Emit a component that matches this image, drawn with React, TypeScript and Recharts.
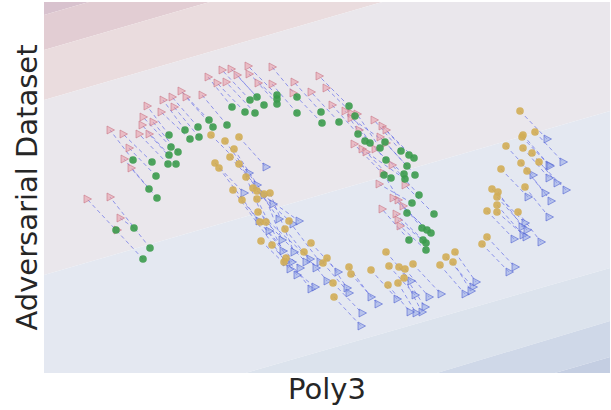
import { ComposedChart, Area, Scatter, XAxis, YAxis } from 'recharts';

// decision-surface contour boundaries (value at left edge / right edge of the plot)
const bandLeft = [2.58, 2.23, 1.73, -0.02, -1.58, -2.18, -2.48];
const bandRight = [4.22, 3.87, 3.37, 1.62, 0.05, -0.48, -0.84];
const bandColors = [
  '#d8c2ce', '#e2cdd3', '#eadcde', '#eae7ec',
  '#e4e8f1', '#dce3ed', '#cfd8e8', '#c4cee2',
];
const xDomain: [number, number] = [-2, 3.66];
const yDomain: [number, number] = [-1, 2.71];

// class 0 (green) clean samples and their adversarial counterparts
const greenPoints: [number, number][] = [
  [-1.28, 0.43], [-1.1, 0.45], [-0.94, 0.25], [-1.01, 0.14], [-0.95, 0.84], [-0.87, 0.75],
  [-0.88, 0.97], [-1.11, 1.13], [-0.92, 1.11], [-0.76, 1.09], [-0.68, 1.09], [-0.75, 1.18],
  [-0.73, 1.26], [-0.66, 1.21], [-0.75, 1.38], [-0.59, 1.43], [-0.54, 1.34], [-0.45, 1.36],
  [-0.46, 1.46], [-0.35, 1.53], [-0.31, 1.46], [-0.17, 1.48], [-0.12, 1.66], [0.01, 1.61],
  [0.06, 1.73], [0.13, 1.76], [0.11, 1.6], [0.2, 1.68], [0.33, 1.78], [0.33, 1.74],
  [0.33, 1.69], [0.53, 1.76], [0.53, 1.6], [0.77, 1.61], [0.78, 1.5], [0.95, 1.51],
  [1.05, 1.67], [1.11, 1.57], [1.14, 1.39], [1.21, 1.32], [1.26, 1.3], [1.36, 1.25],
  [1.41, 1.31], [1.42, 1.13], [1.57, 1.22], [1.65, 1.18], [1.7, 1.15], [1.63, 1.07],
  [1.71, 0.98], [1.6, 0.99], [1.61, 0.94], [1.4, 0.98], [1.47, 0.95], [1.75, 0.78],
  [1.68, 0.7], [1.63, 0.6], [1.9, 0.59], [1.78, 0.45], [1.83, 0.43], [1.87, 0.4],
  [1.65, 0.33], [1.79, 0.33], [1.82, 0.3], [1.82, 0.23],
];
const greenAdv: [number, number][] = [
  [-1.27, 0.43], [-1.24, 0.55], [-1.34, 0.76], [-1.57, 0.74], [-1.13, 1.05], [-1.2, 1.14],
  [-1.15, 1.25], [-1.34, 1.43], [-1.21, 1.39], [-1.05, 1.39], [-0.95, 1.39], [-1.02, 1.48],
  [-1.01, 1.56], [-0.91, 1.51], [-0.97, 1.67], [-0.81, 1.73], [-0.83, 1.61], [-0.7, 1.66],
  [-0.72, 1.76], [-0.63, 1.82], [-0.58, 1.76], [-0.42, 1.78], [-0.36, 1.96], [-0.27, 1.9],
  [-0.22, 2.03], [-0.13, 2.04], [-0.18, 1.91], [-0.07, 1.98], [0.04, 2.07], [0.05, 1.99],
  [0.14, 1.9], [0.28, 2.06], [0.28, 1.89], [0.5, 1.91], [0.49, 1.8], [0.67, 1.81],
  [0.75, 1.97], [0.82, 1.85], [0.88, 1.68], [1.01, 1.62], [1.07, 1.6], [1.13, 1.59],
  [1.07, 1.55], [1.15, 1.43], [1.3, 1.53], [1.38, 1.47], [1.42, 1.43], [1.36, 1.36],
  [1.42, 1.3], [1.31, 1.24], [1.18, 1.24], [1.1, 1.29], [1.22, 1.21], [1.48, 1.08],
  [1.35, 0.89], [1.39, 1.0], [1.61, 0.88], [1.54, 0.73], [1.59, 0.67], [1.49, 0.75],
  [1.38, 0.64], [1.52, 0.59], [1.54, 0.53], [1.56, 0.47],
];

// class 1 (yellow) clean samples and their adversarial counterparts
const yellowPoints: [number, number][] = [
  [-0.33, 1.38], [-0.19, 1.32], [-0.05, 1.36], [-0.1, 1.24], [-0.14, 1.16], [-0.29, 1.1],
  [-0.25, 1.05], [-0.05, 1.09], [0.02, 0.96], [-0.11, 0.83], [0.09, 0.85], [0.13, 0.82],
  [0.2, 0.79], [0.26, 0.8], [-0.02, 0.73], [0.13, 0.74], [0.14, 0.61], [0.16, 0.51],
  [0.22, 0.51], [0.45, 0.52], [0.41, 0.44], [0.17, 0.32], [0.28, 0.28], [0.42, 0.15],
  [0.4, 0.11], [0.67, 0.3], [0.6, 0.21], [0.83, 0.15], [0.79, 0.1], [1.05, 0.06],
  [1.07, -0.01], [0.89, -0.1], [0.9, -0.24], [1.27, 0.03], [1.42, 0.21], [1.45, 0.07],
  [1.55, 0.06], [1.61, 0.04], [1.69, 0.09], [1.6, -0.05], [1.54, -0.1], [1.44, -0.12],
  [1.96, 0.08], [2.02, 0.16], [2.11, 0.21], [2.09, 0.11], [2.38, 0.29], [2.43, 0.36],
  [2.43, 0.62], [2.48, 0.84], [2.54, 0.81], [2.53, 0.76], [2.53, 0.68], [2.53, 0.61],
  [2.74, 0.61], [2.57, 1.04], [2.62, 1.27], [2.81, 0.86], [2.77, 1.1], [2.83, 1.02],
  [2.79, 1.25], [2.88, 1.2], [2.95, 1.11], [2.78, 1.36], [2.79, 1.38], [2.91, 1.41],
  [2.76, 1.62],
];
const yellowAdv: [number, number][] = [
  [0.05, 1.0], [0.13, 0.88], [0.22, 1.06], [0.2, 0.78], [0.29, 0.69], [0.0, 0.8],
  [0.15, 0.52], [0.35, 0.54], [0.25, 0.42], [0.42, 0.11], [0.49, 0.49], [0.55, 0.52],
  [0.38, 0.33], [0.5, 0.21], [0.48, 0.11], [0.39, 0.22], [0.66, 0.14], [0.56, 0.05],
  [0.62, 0.11], [0.76, 0.11], [0.72, 0.05], [0.46, 0.04], [0.53, -0.02], [0.67, -0.16],
  [0.71, -0.14], [0.94, 0.01], [0.83, -0.08], [1.03, -0.15], [1.05, -0.2], [1.27, -0.24],
  [1.34, -0.31], [1.18, -0.4], [1.17, -0.53], [1.53, -0.26], [1.67, -0.08], [1.71, -0.22],
  [1.81, -0.34], [1.85, -0.24], [1.97, -0.21], [1.78, -0.39], [1.72, -0.4], [1.66, -0.39],
  [2.21, -0.21], [2.29, -0.14], [2.32, -0.09], [2.27, -0.18], [2.65, 0.01], [2.71, 0.06],
  [2.7, 0.34], [2.81, 0.5], [2.78, 0.46], [2.83, 0.43], [2.79, 0.38], [2.82, 0.36],
  [2.97, 0.31], [2.84, 0.76], [2.89, 0.98], [3.05, 0.56], [3.01, 0.8], [3.07, 0.72],
  [3.05, 0.95], [3.13, 0.9], [3.22, 0.83], [3.05, 1.08], [3.06, 1.07], [3.19, 1.11],
  [3.03, 1.34],
];

const toXY = (p: [number, number]) => ({ x: p[0], y: p[1] });

// chart table for the background bands: one row per plot edge
const bandRows = [xDomain[0], xDomain[1]].map((x, side) => {
  const edge = side === 0 ? bandLeft : bandRight;
  const row: Record<string, unknown> = { x };
  bandColors.forEach((_, i) => {
    const high = i === 0 ? 6 : edge[i - 1];
    const low = i === edge.length ? -4 : edge[i];
    row[`b${i}`] = [low, high];
  });
  return row;
});

const lineStyle = { stroke: '#5a64e6', strokeOpacity: 0.65, strokeDasharray: '4 3', strokeWidth: 1 };

const NoShape = () => <g />;

const dot = (fill: string) => (props: any) => (
  <circle cx={props.cx} cy={props.cy} r={3.8} fill={fill} fillOpacity={0.9} />
);

const tri = (fill: string, stroke: string) => (props: any) => {
  const { cx, cy } = props;
  return (
    <path
      d={`M${cx - 3},${cy - 4}L${cx + 4.5},${cy}L${cx - 3},${cy + 4}Z`}
      fill={fill}
      fillOpacity={0.6}
      stroke={stroke}
      strokeOpacity={0.7}
      strokeWidth={0.8}
    />
  );
};

const axisFont = { fontFamily: 'DejaVu Sans', fontSize: 29, fill: '#262626' };

export default function App() {
  return (
    <div style={{ position: 'absolute', left: 0, top: 0, background: '#fff' }}>
      <ComposedChart width={611} height={410} data={bandRows} margin={{ top: 2, right: 1, bottom: 0, left: 0 }}>
        <XAxis
          dataKey="x"
          type="number"
          domain={xDomain}
          allowDataOverflow
          height={37}
          tick={false}
          tickLine={false}
          axisLine={false}
          label={{ value: 'Poly3', position: 'center', dy: -3, ...axisFont }}
        />
        <YAxis
          dataKey="y"
          type="number"
          domain={yDomain}
          allowDataOverflow
          width={44}
          tick={false}
          tickLine={false}
          axisLine={false}
          label={{ value: 'Adversarial Dataset', angle: -90, position: 'center', dx: 5, ...axisFont }}
        />
        {bandColors.map((c, i) => (
          <Area
            key={`band${i}`}
            type="linear"
            dataKey={`b${i}`}
            stroke="none"
            fill={c}
            fillOpacity={1}
            isAnimationActive={false}
            activeDot={false}
          />
        ))}
        {greenPoints.map((p, i) => (
          <Scatter
            key={`gl${i}`}
            data={[toXY(p), toXY(greenAdv[i])]}
            line={lineStyle}
            shape={NoShape}
            isAnimationActive={false}
          />
        ))}
        {yellowPoints.map((p, i) => (
          <Scatter
            key={`yl${i}`}
            data={[toXY(p), toXY(yellowAdv[i])]}
            line={lineStyle}
            shape={NoShape}
            isAnimationActive={false}
          />
        ))}
        <Scatter data={greenAdv.map(toXY)} shape={tri('#e8a0ac', '#c8707f')} isAnimationActive={false} />
        <Scatter data={yellowAdv.map(toXY)} shape={tri('#9aaae8', '#4a5cd0')} isAnimationActive={false} />
        <Scatter data={greenPoints.map(toXY)} shape={dot('#3b9b4c')} isAnimationActive={false} />
        <Scatter data={yellowPoints.map(toXY)} shape={dot('#d2ad55')} isAnimationActive={false} />
      </ComposedChart>
    </div>
  );
}
